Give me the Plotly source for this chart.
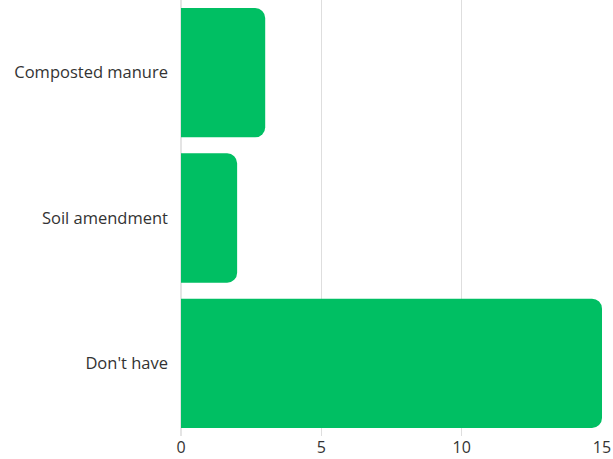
import plotly.graph_objects as go

categories = ["Composted manure", "Soil amendment", "Don't have"]
values = [3, 2, 15]
x_ticks = [0, 5, 10, 15]

fig = go.Figure(go.Bar(
    y=categories, x=values, orientation="h",
    marker=dict(color="#00BF63", line=dict(width=0)),
    width=0.89,
))
fig.update_layout(
    width=613, height=459,
    margin=dict(l=181, r=11, t=0, b=23),
    paper_bgcolor="white", plot_bgcolor="white",
    barcornerradius=10,
    showlegend=False,
    font=dict(family="Open Sans, Lato, sans-serif", color="#333333", size=17),
)
fig.update_xaxes(
    range=[0, 15], tickvals=x_ticks, showgrid=True, gridcolor="#dedede", gridwidth=1,
    zeroline=True, zerolinecolor="#e4e4e4", tickfont=dict(size=16, color="#333333"),
    fixedrange=True,
)
fig.update_yaxes(
    categoryorder="array", categoryarray=categories, autorange="reversed",
    showgrid=False, ticklabelstandoff=12, tickfont=dict(size=16.5, color="#333333"),
)
fig.write_html("out.html")
